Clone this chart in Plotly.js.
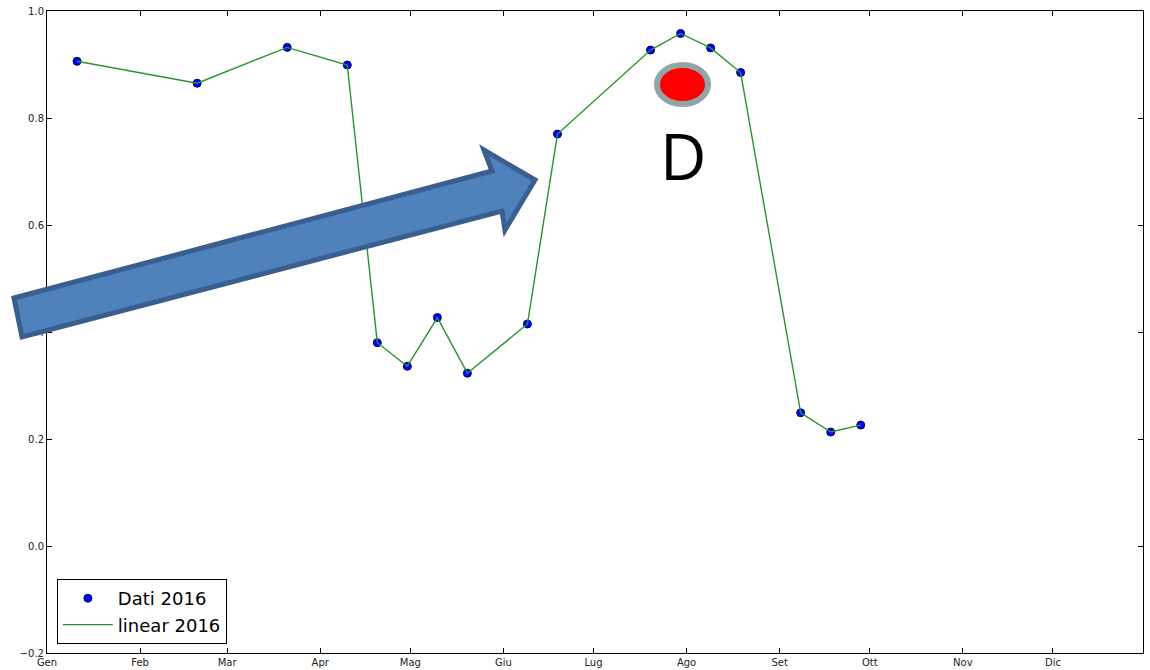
<!DOCTYPE html>
<html>
<head>
<meta charset="utf-8">
<script src="https://cdn.plot.ly/plotly-3.0.1.min.js"></script>
<style>html,body{margin:0;padding:0;background:#fff;}#chart{width:1150px;height:670px;}</style>
</head>
<body>
<div id="chart"></div>
<script>
// Data
const dates = ['2016-01-11','2016-02-20','2016-03-21','2016-04-10','2016-04-20','2016-04-30',
  '2016-05-10','2016-05-20','2016-06-09','2016-06-19','2016-07-20','2016-07-30',
  '2016-08-09','2016-08-19','2016-09-08','2016-09-18','2016-09-28'];
const values = [0.906, 0.865, 0.932, 0.899, 0.380, 0.336, 0.427, 0.323, 0.415, 0.770,
  0.927, 0.958, 0.931, 0.885, 0.249, 0.213, 0.226];
const monthTicks = ['2016-01-01','2016-02-01','2016-03-01','2016-04-01','2016-05-01','2016-06-01',
  '2016-07-01','2016-08-01','2016-09-01','2016-10-01','2016-11-01','2016-12-01'];
const monthLabels = ['Gen','Feb','Mar','Apr','Mag','Giu','Lug','Ago','Set','Ott','Nov','Dic'];
const seriesNames = ['Dati 2016','linear 2016'];
const markerLabel = 'D';

// layout helpers (pixel -> paper)
const M = {l:47, r:7, t:11, b:17};
const W = 1150 - M.l - M.r, H = 670 - M.t - M.b;
const px = x => ((x - M.l) / W).toFixed(5);
const py = y => ((670 - M.b - y) / H).toFixed(5);
const pt = (x, y) => px(x) + ',' + py(y);

const arrowPath = 'M' + pt(14,298) + ' L' + pt(492,171) + ' L' + pt(484,150) + ' L' + pt(535,180) +
  ' L' + pt(505,230) + ' L' + pt(502,211) + ' L' + pt(22,337) + ' Z';

const traces = [
  {x: dates, y: values, type: 'scatter', mode: 'markers', name: seriesNames[0],
   marker: {color: '#0000ff', size: 8, line: {color: '#000066', width: 1}}},
  {x: dates, y: values, type: 'scatter', mode: 'lines', name: seriesNames[1],
   line: {color: '#2a922a', width: 1.4}}
];

const axisFont = {family: 'DejaVu Sans', size: 10, color: '#222'};
const layout = {
  width: 1150, height: 670,
  margin: M,
  paper_bgcolor: '#fff', plot_bgcolor: '#fff',
  showlegend: true,
  xaxis: {
    type: 'date', range: ['2016-01-01', '2016-12-31'],
    tickvals: monthTicks, ticktext: monthLabels,
    showgrid: false, zeroline: false,
    showline: true, linecolor: '#000', linewidth: 1, mirror: 'allticks',
    ticks: 'inside', ticklen: 5, tickcolor: '#000',
    tickfont: axisFont
  },
  yaxis: {
    range: [-0.2, 1.0], dtick: 0.2, tick0: 0, tickformat: '.1f',
    showgrid: false, zeroline: false,
    showline: true, linecolor: '#000', linewidth: 1, mirror: 'allticks',
    ticks: 'inside', ticklen: 5, tickcolor: '#000',
    tickfont: axisFont
  },
  legend: {
    x: 0.009, y: 0.014, xanchor: 'left', yanchor: 'bottom',
    bgcolor: '#fff', bordercolor: '#000', borderwidth: 1,
    font: {family: 'DejaVu Sans', size: 18, color: '#000'},
    itemwidth: 50, tracegroupgap: 0
  },
  shapes: [
    {type: 'path', xref: 'paper', yref: 'paper', layer: 'above', path: arrowPath,
     fillcolor: '#4f81bd', line: {color: '#3a5f8f', width: 5}},
    {type: 'circle', xref: 'paper', yref: 'paper', layer: 'above',
     x0: px(657), x1: px(708), y0: py(104), y1: py(65),
     fillcolor: '#ff0000', line: {color: '#93a4a6', width: 6}}
  ],
  annotations: [
    {xref: 'paper', yref: 'paper', x: px(683), y: py(155), text: markerLabel,
     showarrow: false, xanchor: 'center', yanchor: 'middle',
     font: {family: 'Open Sans', size: 64, color: '#000'}}
  ]
};

Plotly.newPlot('chart', traces, layout, {displayModeBar: false, staticPlot: true});
</script>
</body>
</html>
